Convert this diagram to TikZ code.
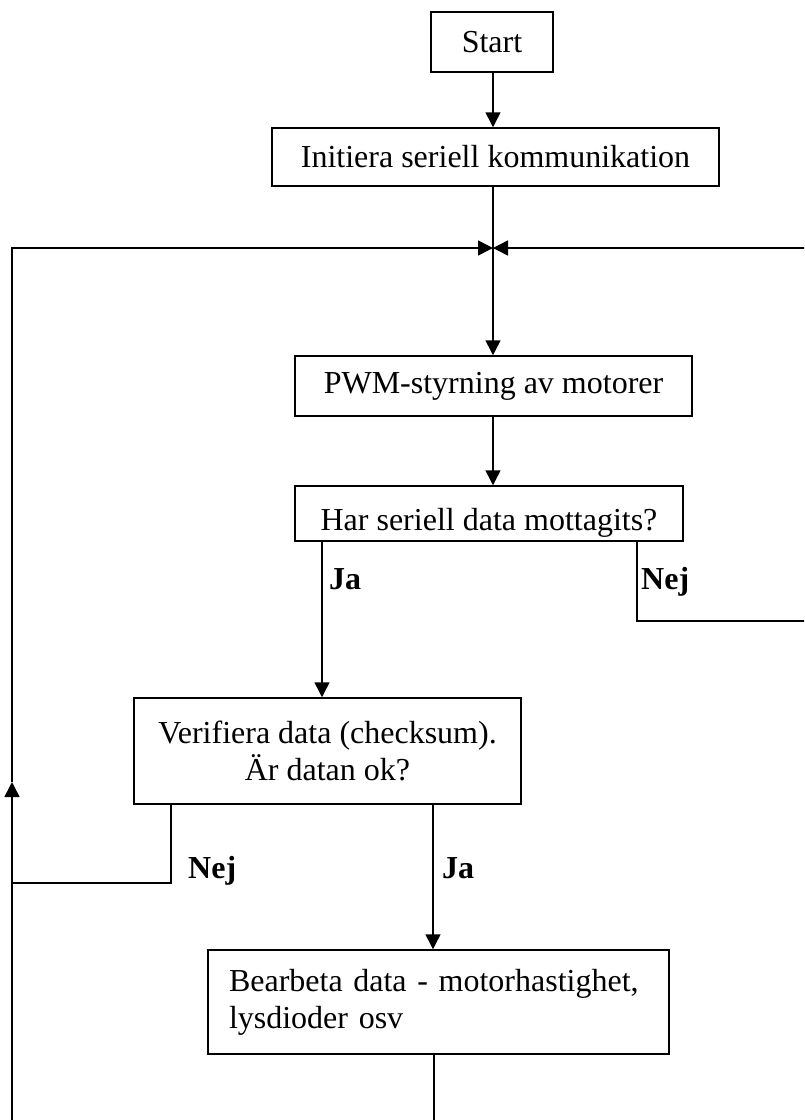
\documentclass[tikz,border=0pt]{standalone}
\usepackage{fontspec}
\setmainfont{Liberation Serif}
\usetikzlibrary{arrows.meta}
\begin{document}
\begin{tikzpicture}[x=1pt,y=-1pt,
  every node/.style={font=\fontsize{32}{37}\selectfont},
  box/.style={draw, line width=1.5pt, inner sep=0pt, align=center},
  lbl/.style={anchor=base west, font=\fontsize{32}{37}\selectfont\bfseries, inner sep=0pt},
  conn/.style={line width=1.5pt},
  arr/.style={conn, -{Triangle[length=15pt,width=15pt]}}]
\useasboundingbox (0,0) rectangle (804,1120);
\clip (0,0) rectangle (804,1120);
% boxes
\node[box, minimum width=122pt, minimum height=60pt] (start) at (492,42) {Start};
\node[box, minimum width=447pt, minimum height=58pt] (init) at (495.5,157) {Initiera seriell kommunikation};
\node[box, minimum width=397pt, minimum height=60pt] (pwm) at (493.5,386) {PWM-styrning av motorer};
\node[box, minimum width=388pt, text height=33pt, text depth=0pt, inner ysep=11pt] (har) at (489,513.5) {Har seriell data mottagits?};
\node[box, minimum width=387pt, minimum height=106pt] (ver) at (327.5,751) {Verifiera data (checksum).\\Är datan ok?};
\node[box, minimum height=104pt, inner xsep=21pt, text width=419pt, align=left] (bea) at (438.5,1002) {Bearbeta data - motorhastighet,\\lysdioder osv};
% labels
\node[lbl] (ja1) at (329,589) {Ja};
\node[lbl] (nej1) at (641,589) {Nej};
\node[lbl] (nej2) at (188,878) {Nej};
\node[lbl] (ja2) at (442,878) {Ja};
% helper coordinates
\coordinate (spine) at (493,0);
\coordinate (junc) at (493,248);
\coordinate (jaX) at (322,0);
\coordinate (nejX) at (637,0);
\coordinate (nej2X) at (171,0);
\coordinate (ja2X) at (433,0);
\coordinate (beaX) at (434,0);
\coordinate (rightC) at (808,621);
\coordinate (leftJ) at (12,883);
\coordinate (midL) at (12,782);
\coordinate (botL) at (12,1125);
\coordinate (botB) at (434,1125);
% connectors
\draw[arr] (start.south -| spine) -- (init.north -| spine);
\draw[arr] (init.south -| spine) -- (pwm.north -| spine);
\draw[arr] (pwm.south -| spine) -- (har.north -| spine);
\draw[arr] (har.south -| jaX) -- (ver.north -| jaX);
\draw[conn] (har.south -| nejX) |- (rightC);
\draw[arr] (rightC) |- (junc);
\draw[conn] (ver.south -| nej2X) |- (leftJ);
\draw[arr] (ver.south -| ja2X) -- (bea.north -| ja2X);
\draw[conn] (bea.south -| beaX) -- (botB);
\draw[arr] (botL) -- (midL);
\draw[arr] (midL) |- (junc);
\end{tikzpicture}
\end{document}
